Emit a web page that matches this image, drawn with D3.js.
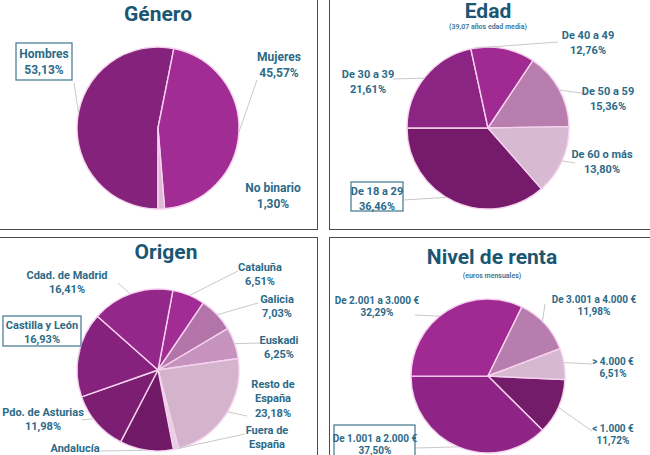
<!DOCTYPE html>
<html><head><meta charset="utf-8">
<script src="https://cdn.jsdelivr.net/npm/d3@7/dist/d3.min.js"></script>
<style>
html,body{margin:0;padding:0;background:#fff;}
svg{display:block;font-family:Roboto,"Open Sans",sans-serif;}
</style></head>
<body>
<svg id="c" width="650" height="455"></svg>
<script>
// ---------- DATA ----------
const generoLabels = ["Hombres", "Mujeres", "No binario"];
const generoValues = [53.13, 45.57, 1.30];

const edadLabels = ["De 18 a 29", "De 30 a 39", "De 40 a 49", "De 50 a 59", "De 60 o más"];
const edadValues = [36.46, 21.61, 12.76, 15.36, 13.80];

const origenLabels = ["Cataluña", "Galicia", "Euskadi", "Resto de España", "Fuera de España", "Andalucía", "Pdo. de Asturias", "Castilla y León", "Cdad. de Madrid"];
const origenValues = [6.51, 7.03, 6.25, 23.18, 1.04, 10.68, 11.98, 16.93, 16.41];

const rentaLabels = ["< 1.000 €", "De 1.001 a 2.000 €", "De 2.001 a 3.000 €", "De 3.001 a 4.000 €", "> 4.000 €"];
const rentaValues = [11.72, 37.50, 32.29, 11.98, 6.51];

const titles = ["Género", "Edad", "Origen", "Nivel de renta"];
const subtitles = ["", "(39,07 años edad media)", "", "(euros mensuales)"];

// ---------- STYLE / LAYOUT ----------
const generoColors = ["#85227B", "#A12C93", "#DDB9D6"];
const edadColors = ["#761A6B", "#8C2483", "#A12A92", "#B87EAE", "#D8B9D2"];
const origenColors = ["#A12C94", "#B374AA", "#C593BD", "#D4B3CD", "#E6CFE2", "#701A67", "#7C1F72", "#86227D", "#93278A"];
const rentaColors = ["#741B6A", "#8E2586", "#A02A92", "#B77DAE", "#D6B8D0"];

const fmt = v => d3.format(".2f")(v).replace(".", ",") + "%";
const svg = d3.select("#c");
const TXT = "#2C6A88", TITLE = "#1B5673", LEAD = "#C9C9C9";

// panel frames
const frames = [[-2, -2, 319, 231], [329, -2, 325, 231], [-2, 237, 319, 222], [329, 237, 325, 222]];
frames.forEach(f => svg.append("rect").attr("x", f[0] + 0.5).attr("y", f[1] + 0.5)
  .attr("width", f[2]).attr("height", f[3]).attr("fill", "none").attr("stroke", "#4a4a4a").attr("stroke-width", 1));

const panels = [
  { labels: generoLabels, values: generoValues, colors: generoColors, cx: 158, cy: 128, r: 81, start: 180,
    title: [158, 14], sub: null, fs: 12, lh: 16,
    lab: [
      { x: 44, y: 54, box: [16, 43, 56, 37], lead: [74, 83], ang: 281 },
      { x: 279, y: 57, lead: [257, 80], ang: 93 },
      { x: 273, y: 188 }
    ] },
  { labels: edadLabels, values: edadValues, colors: edadColors, cx: 488, cy: 128, r: 81, start: 138.7,
    title: [488, 11], sub: [488, 27], fs: 11, lh: 15,
    lab: [
      { x: 377, y: 191, box: [351, 182, 52, 29], lead: [403, 200], ang: 211 },
      { x: 368, y: 74, lead: [393, 79], ang: 308 },
      { x: 588, y: 35, lead: [558, 42], ang: 350 },
      { x: 608, y: 91, lead: [588, 94], ang: 62 },
      { x: 602, y: 154, lead: [575, 163], ang: 114 }
    ] },
  { labels: origenLabels, values: origenValues, colors: origenColors, cx: 158, cy: 370, r: 81, start: 10.6,
    title: [166, 252], sub: null, fs: 11, lh: 14.5,
    lab: [
      { x: 260, y: 267, lead: [238, 271], ang: 23 },
      { x: 277, y: 299, lead: [258, 303], ang: 47 },
      { x: 279, y: 340, lead: [260, 343], ang: 71 },
      { x: 273, y: 384, lines: ["Resto de", "España"], lead: [247, 416], ang: 121 },
      { x: 267, y: 430, lines: ["Fuera de", "España"], lead: [245, 434], ang: 166 },
      { x: 75, y: 448, lead: [100, 451], ang: 188 },
      { x: 43, y: 412, lead: [82, 420], ang: 233 },
      { x: 42, y: 325, box: [3, 316, 78, 30], lead: [80, 351], ang: 276 },
      { x: 67, y: 275, lead: [118, 283], ang: 340 }
    ] },
  { labels: rentaLabels, values: rentaValues, colors: rentaColors, cx: 488, cy: 376, r: 77, start: 92.7,
    title: [492, 257], sub: [492, 276], fs: 10, lh: 12,
    lab: [
      { x: 613, y: 428, lead: [592, 431], ang: 114 },
      { x: 375, y: 438, box: [334, 425, 81, 40], lead: [415, 448], ang: 203 },
      { x: 377, y: 300, lead: [415, 315], ang: 321 },
      { x: 594, y: 299, lead: [545, 304], ang: 45 },
      { x: 613, y: 361, lead: [592, 364], ang: 80 }
    ] }
];

const rad = d => d * Math.PI / 180;

panels.forEach((p, pi) => {
  const g = svg.append("g");
  g.append("text").attr("x", p.title[0]).attr("y", p.title[1]).attr("text-anchor", "middle")
    .attr("dominant-baseline", "central").attr("font-size", 21).attr("font-weight", 700)
    .attr("fill", TITLE).text(titles[pi]);
  if (p.sub) g.append("text").attr("x", p.sub[0]).attr("y", p.sub[1]).attr("text-anchor", "middle")
    .attr("dominant-baseline", "central").attr("font-size", 7).attr("font-weight", 600)
    .attr("fill", "#3D7290").text(subtitles[pi]);

  const pie = d3.pie().sort(null).value(d => d)
    .startAngle(rad(p.start)).endAngle(rad(p.start) + 2 * Math.PI);
  const arcs = pie(p.values);
  const arc = d3.arc().innerRadius(0).outerRadius(p.r);
  const pg = g.append("g").attr("transform", `translate(${p.cx},${p.cy})`);
  pg.selectAll("path").data(arcs).join("path")
    .attr("d", arc).attr("fill", (d, i) => p.colors[i])
    .attr("stroke", "#F6D2EF").attr("stroke-width", 1.4).attr("stroke-linejoin", "round");

  p.lab.forEach((l, i) => {
    if (!l.lead) return;
    const a = rad(l.ang);
    const ex = p.cx + p.r * Math.sin(a), ey = p.cy - p.r * Math.cos(a);
    g.append("line").attr("x1", l.lead[0]).attr("y1", l.lead[1]).attr("x2", ex).attr("y2", ey)
      .attr("stroke", LEAD).attr("stroke-width", 1);
  });
  p.lab.forEach((l, i) => {
    if (l.box) g.append("rect").attr("x", l.box[0]).attr("y", l.box[1]).attr("width", l.box[2]).attr("height", l.box[3])
      .attr("fill", "#fff").attr("stroke", "#4F8099").attr("stroke-width", 1.3);
    const lines = (l.lines || [p.labels[i]]).concat([fmt(p.values[i])]);
    const t = g.append("text").attr("text-anchor", "middle").attr("font-size", p.fs)
      .attr("font-weight", 700).attr("fill", TXT);
    lines.forEach((s, k) => t.append("tspan").attr("x", l.x).attr("y", l.y + k * p.lh)
      .attr("dominant-baseline", "central").text(s));
  });
});
</script>
</body></html>
